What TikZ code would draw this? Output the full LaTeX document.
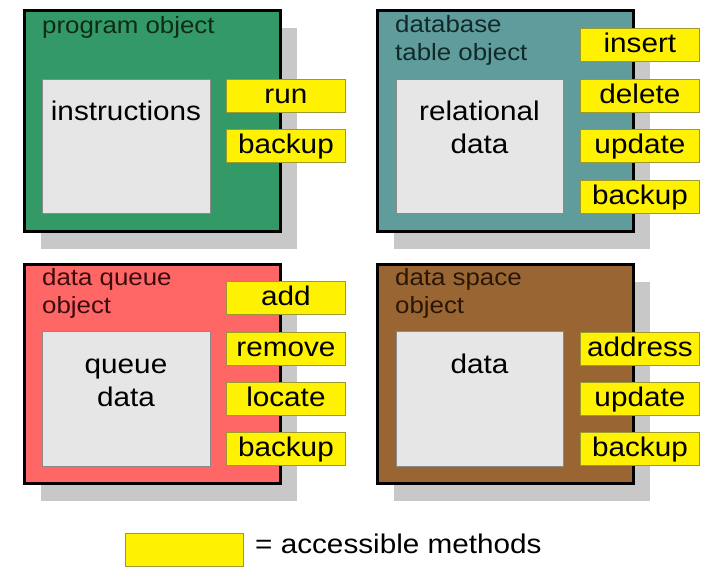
\documentclass[tikz,border=0pt]{standalone}
\usepackage{fontspec}
\setmainfont{Liberation Sans}[FakeStretch=1.1]
\usetikzlibrary{shadows}
\definecolor{pgreen}{HTML}{339966}
\definecolor{pteal}{HTML}{609C9C}
\definecolor{pred}{HTML}{FF6666}
\definecolor{pbrown}{HTML}{996633}
\definecolor{pgreenlab}{HTML}{0E2A18}
\definecolor{ptealab}{HTML}{102A2A}
\definecolor{predlab}{HTML}{3A0C0C}
\definecolor{pbrownlab}{HTML}{2A1606}
\definecolor{grayin}{HTML}{E6E6E6}
\definecolor{shadowgray}{HTML}{C8C8C8}
\definecolor{boxedge}{HTML}{8A8A8A}
\definecolor{methedge}{HTML}{9A9A30}
\newcommand\labfont{\fontsize{23.5}{28}\selectfont}
\newcommand\datfont{\fontsize{27}{33}\selectfont}
\newcommand\methfont{\fontsize{27}{33}\selectfont}
\newcommand\legfont{\fontsize{27}{30}\selectfont}
\tikzset{
  objbox/.style={draw=black, line width=3pt, anchor=north west, inner sep=0pt,
    minimum width=256pt, minimum height=221pt,
    drop shadow={shadow xshift=16pt, shadow yshift=-17pt, fill=shadowgray, opacity=1}},
  databox/.style={draw=boxedge, line width=0.8pt, fill=grayin, anchor=north west,
    inner sep=0pt, minimum width=168pt, minimum height=134pt},
  method/.style={draw=methedge, line width=0.8pt, fill=yellow, anchor=north west,
    inner sep=0pt, minimum width=119pt, minimum height=33pt,
    text height=19.5pt, text depth=4pt, font=\methfont},
  objlabel/.style={anchor=north west, inner sep=0pt, align=left, font=\labfont},
  datatext/.style={anchor=north, inner sep=0pt, align=center, font=\datfont},
}
\begin{document}
\begin{tikzpicture}[x=1pt,y=-1pt]
\useasboundingbox[fill=white] (0,0) rectangle (706,566);

% program object
\node[objbox, fill=pgreen] (prog) at (23,9) {};
\node[databox] (progdata) at (42,79) {};
\node[datatext] (progtext) at (126,97) {\strut instructions};
\node[objlabel, text=pgreenlab] (proglab) at (42,13.4) {\strut program object};
\node[method] (progrun) at (226,79) {run};
\node[method] (progbackup) at (226,129) {backup};

% database table object
\node[objbox, fill=pteal] (db) at (376,9) {};
\node[databox, minimum width=167pt] (dbdata) at (396,79) {};
\node[datatext] (dbtext) at (479.5,97) {\strut relational\\\strut data};
\node[objlabel, text=ptealab] (dblab) at (395,12.4) {\strut database\\\strut table object};
\node[method] (dbinsert) at (580,28) {insert};
\node[method] (dbdelete) at (580,79) {delete};
\node[method] (dbupdate) at (580,129) {update};
\node[method] (dbbackup) at (580,180) {backup};

% data queue object
\node[objbox, fill=pred, minimum height=219pt] (dq) at (23,263) {};
\node[databox, minimum height=135pt] (dqdata) at (42,331) {};
\node[datatext] (dqtext) at (126,350) {\strut queue\\\strut data};
\node[objlabel, text=predlab] (dqlab) at (42,265.4) {\strut data queue\\\strut object};
\node[method] (dqadd) at (226,281) {add};
\node[method] (dqremove) at (226,332) {remove};
\node[method] (dqlocate) at (226,382) {locate};
\node[method] (dqbackup) at (226,432) {backup};

% data space object
\node[objbox, fill=pbrown, minimum height=219pt] (ds) at (376,263) {};
\node[databox, minimum width=167pt, minimum height=135pt] (dsdata) at (396,331) {};
\node[datatext] (dstext) at (479.5,350) {\strut data};
\node[objlabel, text=pbrownlab] (dslab) at (395,265.4) {\strut data space\\\strut object};
\node[method] (dsaddress) at (580,332) {address};
\node[method] (dsupdate) at (580,382) {update};
\node[method] (dsbackup) at (580,432) {backup};

% legend
\node[method, minimum width=118pt, minimum height=33pt] (legbox) at (125,533) {};
\node[anchor=base west, inner sep=0pt, font=\legfont] (legtext) at (255,553) {= accessible methods};
\end{tikzpicture}
\end{document}
